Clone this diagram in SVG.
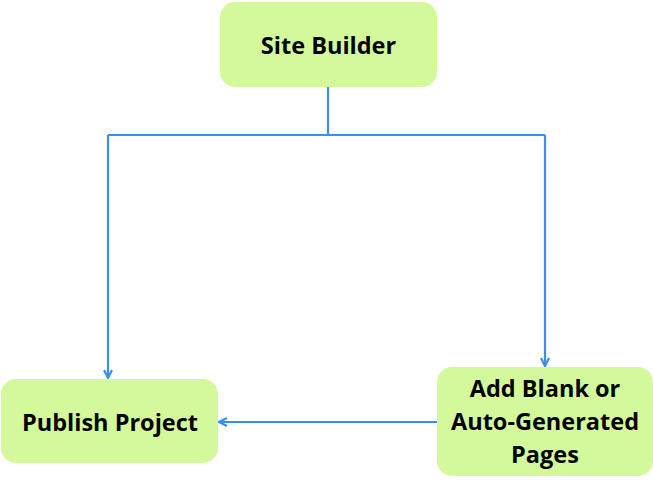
<svg xmlns="http://www.w3.org/2000/svg" width="653" height="482" viewBox="0 0 653 482">
<style>
.box{fill:#d4f99b;}
.lbl{font-family:"Open Sans","Liberation Sans",sans-serif;font-weight:bold;font-size:23.5px;fill:#000;text-anchor:middle;dominant-baseline:central;}
.conn{fill:none;stroke:#3a8fea;stroke-width:2.2;}
</style>
<defs>
<marker id="arr" viewBox="0 0 10 10" refX="9" refY="5" markerWidth="10" markerHeight="10" markerUnits="userSpaceOnUse" orient="auto">
<path d="M1,1 L9,5 L1,9" fill="none" stroke="#3a8fea" stroke-width="2.2"/>
</marker>
</defs>
<g id="connectors">
<path class="conn" d="M328,87 V135 M108,135 H545"/>
<path class="conn" d="M108,135 V378" marker-end="url(#arr)"/>
<path class="conn" d="M545,135 V366" marker-end="url(#arr)"/>
<path class="conn" d="M437,422 H219" marker-end="url(#arr)"/>
</g>
<g id="site-builder">
<rect class="box" x="220" y="2" width="217" height="85" rx="15"/>
<text class="lbl" x="328.5" y="45">Site Builder</text>
</g>
<g id="publish-project">
<rect class="box" x="1" y="379" width="217" height="84" rx="15"/>
<text class="lbl" x="110" y="422">Publish Project</text>
</g>
<g id="add-pages">
<rect class="box" x="437" y="367" width="216" height="109" rx="15"/>
<text class="lbl" x="545" y="388">Add Blank or</text>
<text class="lbl" x="545" y="421">Auto-Generated</text>
<text class="lbl" x="545" y="454">Pages</text>
</g>
</svg>
